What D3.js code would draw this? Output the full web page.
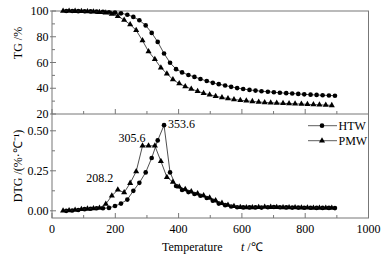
<!DOCTYPE html>
<html>
<head>
<meta charset="utf-8">
<script src="https://cdn.jsdelivr.net/npm/d3@7"></script>
<style>
    body { margin: 0; background: #fff; }
    text { font-family: "Liberation Serif", "Times New Roman", serif; fill: #000; }
</style>
</head>
<body>
<div id="vis"></div>
<script>
//marker temperatures (°C)
const htwTemp = [45, 64, 83, 103, 122, 141, 161, 180, 199, 218, 238, 257, 276, 296, 315, 334, 354, 373, 392, 411, 431, 450, 469, 489, 508, 527, 547, 566, 585, 604, 624, 643, 662, 682, 701, 720, 740, 759, 778, 797, 817, 836, 855, 875, 894]
const pmwTemp = [35, 54, 73, 93, 112, 131, 150, 170, 189, 208, 228, 247, 266, 286, 305, 325, 344, 363, 382, 402, 421, 440, 460, 479, 498, 517, 537, 556, 575, 595, 614, 633, 653, 672, 691, 710, 730, 749, 768, 788, 807, 826, 845, 865, 884]

//TG, %
const htwTG = [100, 100, 99.9, 99.8, 99.7, 99.5, 99.3, 99.0, 98.7, 98.2, 97.1, 95.4, 92.8, 88.8, 83.0, 76.0, 67.0, 59.8, 54.8, 52.3, 50.3, 48.8, 47.2, 45.6, 44.2, 43.2, 42.1, 41.1, 40.1, 39.4, 38.7, 38.2, 37.7, 37.3, 36.9, 36.5, 36.2, 35.9, 35.6, 35.3, 35.0, 34.8, 34.6, 34.4, 34.2]
const pmwTG = [100, 100, 99.9, 99.8, 99.6, 99.4, 99.1, 98.6, 97.6, 96.0, 93.0, 89.5, 85.0, 77.0, 68.5, 62.5, 56.0, 51.3, 46.8, 43.6, 41.4, 39.5, 37.7, 36.2, 35.0, 33.8, 32.8, 32.0, 31.3, 30.7, 30.2, 29.8, 29.3, 29.0, 28.7, 28.5, 28.3, 28.1, 27.9, 27.7, 27.5, 27.3, 27.1, 26.9, 26.7]

//DTG, %/°C
const htwDTG = [0.000, 0.002, 0.005, 0.010, 0.013, 0.016, 0.016, 0.018, 0.030, 0.045, 0.070, 0.125, 0.175, 0.240, 0.330, 0.440, 0.535, 0.240, 0.155, 0.130, 0.117, 0.105, 0.094, 0.080, 0.063, 0.045, 0.035, 0.027, 0.022, 0.021, 0.021, 0.021, 0.020, 0.022, 0.024, 0.022, 0.021, 0.020, 0.020, 0.019, 0.019, 0.018, 0.018, 0.018, 0.017]
const pmwDTG = [0.000, 0.002, 0.005, 0.009, 0.012, 0.015, 0.018, 0.042, 0.094, 0.131, 0.114, 0.173, 0.246, 0.406, 0.406, 0.406, 0.310, 0.210, 0.180, 0.150, 0.135, 0.120, 0.108, 0.095, 0.082, 0.065, 0.048, 0.036, 0.028, 0.022, 0.021, 0.021, 0.022, 0.024, 0.023, 0.022, 0.021, 0.020, 0.020, 0.019, 0.019, 0.018, 0.018, 0.017, 0.017]

//peak labels: series, marker index, text
const peaks = [
    { series: 'HTW', index: 16, label: '353.6' },
    { series: 'PMW', index: 14, label: '305.6' },
    { series: 'PMW', index: 9, label: '208.2' }
]

//axis ticks
const xTicks = [0, 200, 400, 600, 800, 1000]
const xMinor = [100, 300, 500, 700, 900]
const tgTicks = [20, 40, 60, 80, 100]
const tgMinor = [30, 50, 70, 90]
const dtgTicks = [0, 0.25, 0.5]
const dtgMinor = [0.125, 0.375]

const width = 385
const height = 256

const svg = d3.select('#vis')
    .append('svg')
    .attr('width', width)
    .attr('height', height)

const left = 52
const right = 368.5
const top1 = 11
const mid = 114
const bottom = 218

const x = d3.scaleLinear().domain([0, 1000]).range([left, right])
const yTG = d3.scaleLinear().domain([20, 100]).range([mid, top1])
const yDTG = d3.scaleLinear().domain([-0.045, 0.605]).range([bottom, mid])

const axisColor = '#777'

//frame
svg.append('rect')
    .attr('x', left).attr('y', top1)
    .attr('width', right - left).attr('height', bottom - top1)
    .attr('fill', 'none').attr('stroke', axisColor).attr('stroke-width', 1)
svg.append('line')
    .attr('x1', left).attr('x2', right)
    .attr('y1', mid).attr('y2', mid)
    .attr('stroke', axisColor)

//x ticks, pointing up on both panel bottoms
for (const yy of [mid, bottom]) {
    svg.selectAll(null).data(xTicks).enter().append('line')
        .attr('x1', d => x(d)).attr('x2', d => x(d))
        .attr('y1', yy).attr('y2', yy - 5)
        .attr('stroke', axisColor)
    svg.selectAll(null).data(xMinor).enter().append('line')
        .attr('x1', d => x(d)).attr('x2', d => x(d))
        .attr('y1', yy).attr('y2', yy - 3)
        .attr('stroke', axisColor)
}
svg.selectAll(null).data(xTicks).enter().append('text')
    .attr('x', d => x(d)).attr('y', 232.5)
    .attr('text-anchor', 'middle')
    .attr('font-size', 12)
    .text(d => d)

//y ticks
function yAxis(scale, major, minor, fmt) {
    svg.selectAll(null).data(major).enter().append('line')
        .attr('x1', left - 2).attr('x2', left + 4)
        .attr('y1', d => scale(d)).attr('y2', d => scale(d))
        .attr('stroke', axisColor)
    svg.selectAll(null).data(minor).enter().append('line')
        .attr('x1', left).attr('x2', left + 3)
        .attr('y1', d => scale(d)).attr('y2', d => scale(d))
        .attr('stroke', axisColor)
    svg.selectAll(null).data(major).enter().append('text')
        .attr('x', left - 3.5).attr('y', d => scale(d))
        .attr('dy', '0.35em')
        .attr('text-anchor', 'end')
        .attr('font-size', 12)
        .text(fmt)
}
yAxis(yTG, tgTicks, tgMinor, d => d)
yAxis(yDTG, dtgTicks, dtgMinor, d3.format('.2f'))

//axis titles
svg.append('text')
    .attr('transform', 'translate(21.5,43) rotate(-90)')
    .attr('text-anchor', 'middle')
    .attr('font-size', 12)
    .text('TG /%')
svg.append('text')
    .attr('transform', 'translate(21.5,166) rotate(-90)')
    .attr('text-anchor', 'middle')
    .attr('font-size', 12)
    .text('DTG /(%·℃⁻¹)')
svg.append('text')
    .attr('x', 162).attr('y', 251)
    .attr('font-size', 12)
    .text('Temperature')
const tt = svg.append('text')
    .attr('x', 241).attr('y', 251)
    .attr('font-size', 12)
tt.append('tspan').attr('font-style', 'italic').text('t')
tt.append('tspan').text(' /℃')

//series
const series = [
    { name: 'HTW', temp: htwTemp, tg: htwTG, dtg: htwDTG, symbol: d3.symbolCircle, size: 17 },
    { name: 'PMW', temp: pmwTemp, tg: pmwTG, dtg: pmwDTG, symbol: d3.symbolTriangle, size: 16 }
]

function drawSeries(s, values, yScale) {
    const pts = s.temp.map((t, i) => [t, values[i]])
    const line = d3.line()
        .x(d => x(d[0]))
        .y(d => yScale(d[1]))
    svg.append('path')
        .attr('d', line(pts))
        .attr('fill', 'none')
        .attr('stroke', '#222')
        .attr('stroke-width', 0.8)
    svg.selectAll(null).data(pts).enter().append('path')
        .attr('d', d3.symbol().type(s.symbol).size(s.size))
        .attr('transform', d => `translate(${x(d[0])},${yScale(d[1])})`)
        .attr('fill', '#000')
}

for (const s of series) {
    drawSeries(s, s.tg, yTG)
    drawSeries(s, s.dtg, yDTG)
}

//peak labels
const labelOffset = { '353.6': [4, 3, 'start'], '305.6': [-3, -4, 'end'], '208.2': [-4.5, -7.5, 'end'] }
for (const p of peaks) {
    const s = series.find(d => d.name === p.series)
    const o = labelOffset[p.label]
    svg.append('text')
        .attr('x', x(s.temp[p.index]) + o[0])
        .attr('y', yDTG(s.dtg[p.index]) + o[1])
        .attr('text-anchor', o[2])
        .attr('font-size', 12)
        .text(p.label)
}

//legend
const legend = svg.selectAll('.legend')
    .data(series)
    .enter()
    .append('g')
    .attr('class', 'legend')
    .attr('transform', (d, i) => `translate(308,${125.7 + i * 15})`)
legend.append('line')
    .attr('x1', 0).attr('x2', 29)
    .attr('stroke', '#333').attr('stroke-width', 0.8)
legend.append('path')
    .attr('d', d => d3.symbol().type(d.symbol).size(d.size)())
    .attr('transform', 'translate(14,0)')
legend.append('text')
    .attr('x', 30.5).attr('dy', '0.35em')
    .attr('font-size', 12)
    .text(d => d.name)
</script>
</body>
</html>
